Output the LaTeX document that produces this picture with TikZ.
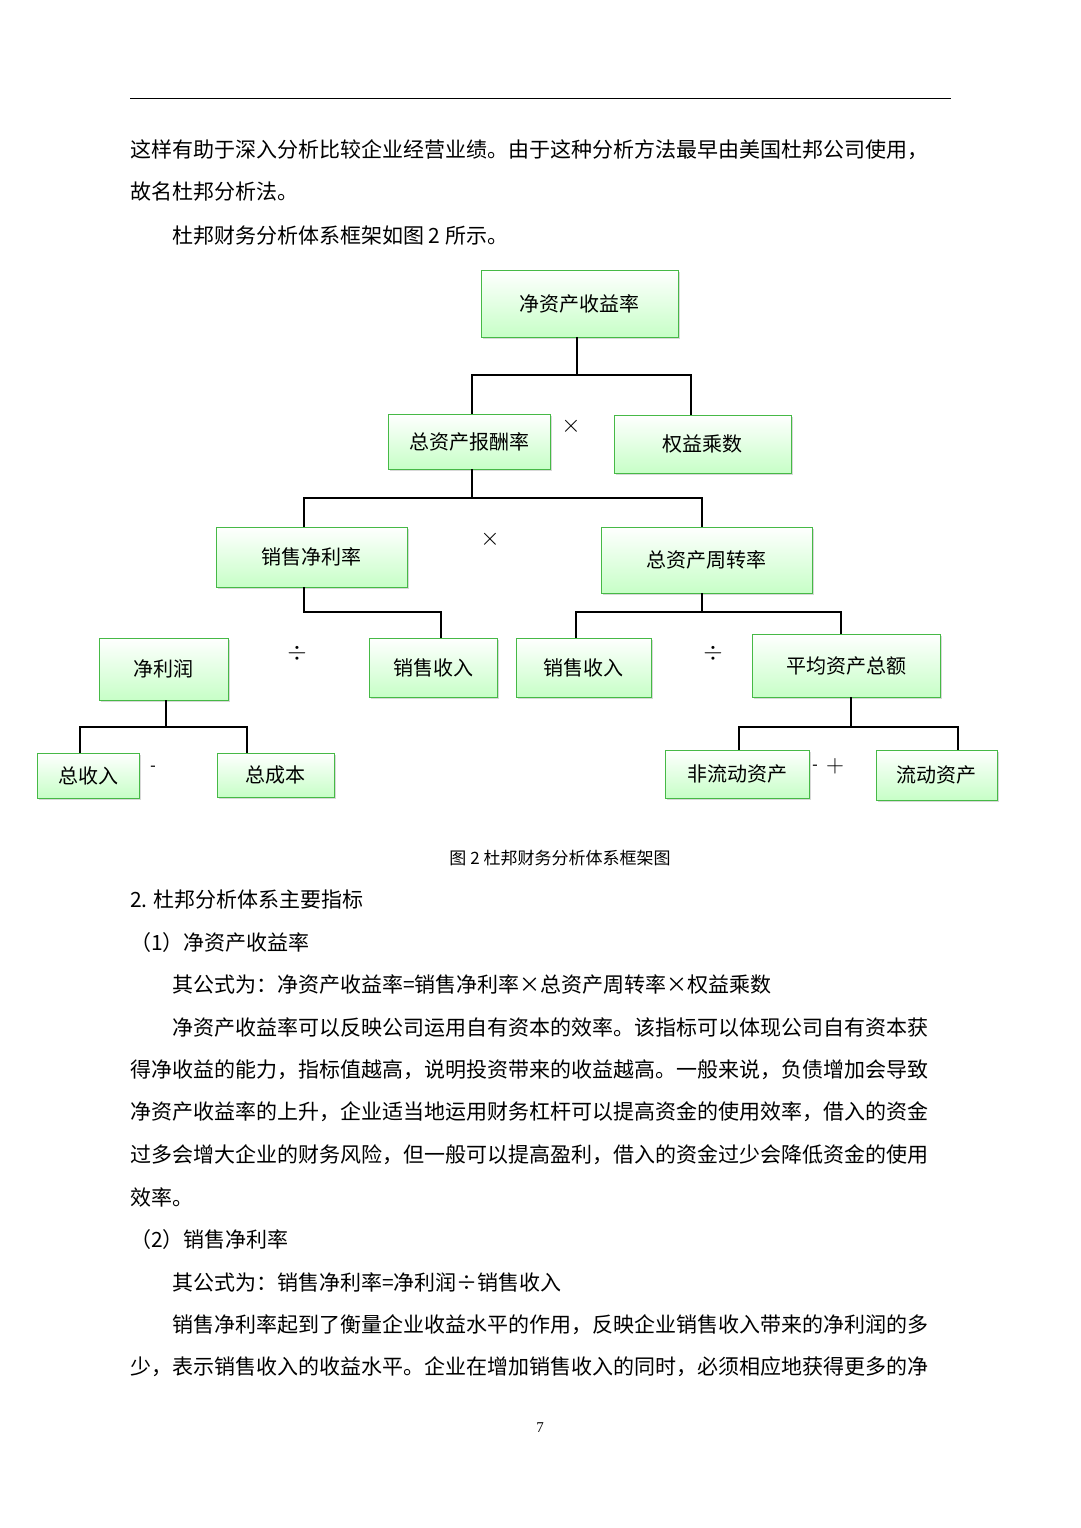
\documentclass[tikz,border=0pt]{standalone}
\usepackage{fontspec}
\setmainfont{Liberation Serif}
\newfontfamily\cjk{Noto Sans CJK SC}
\usetikzlibrary{shadows}
\tikzstyle{base} = [rectangle, draw=green!45!gray, line width=0.8pt, top color=white, bottom color=green!22, drop shadow={shadow xshift=2pt, shadow yshift=-2pt, fill=gray!60}, text centered, font=\cjk\fontsize{20}{20}\selectfont, inner sep=0pt]
\tikzstyle{line} = [line width=1.2pt]
\tikzstyle{para} = [anchor=west, inner sep=0pt, font=\cjk\fontsize{21}{21}\selectfont]
\tikzstyle{op} = [font=\fontsize{24}{24}\selectfont]
\begin{document}
\begin{tikzpicture}[x=1pt, y=-1pt]
  \useasboundingbox[fill=white] (0,0) rectangle (1080,1528);
  \draw[line width=1pt] (130,98) -- (951,98);
  % text above the figure
  \node[para] at (130,150) {这样有助于深入分析比较企业经营业绩。由于这种分析方法最早由美国杜邦公司使用，};
  \node[para] at (130,192) {故名杜邦分析法。};
  \node[para] at (172,236) {杜邦财务分析体系框架如图 2 所示。};
  % boxes
  \node (roe)   [base, minimum width=197, minimum height=67] at (579.5,303.5) {净资产收益率};
  \node (roa)   [base, minimum width=162, minimum height=55] at (469,441.5) {总资产报酬率};
  \node (em)    [base, minimum width=177, minimum height=58] at (702.5,444) {权益乘数};
  \node (npm)   [base, minimum width=191, minimum height=60] at (311.5,557) {销售净利率};
  \node (tat)   [base, minimum width=211, minimum height=66] at (706.5,560) {总资产周转率};
  \node (np)    [base, minimum width=129, minimum height=62] at (163.5,669) {净利润};
  \node (sales1)[base, minimum width=128, minimum height=59] at (433,667.5) {销售收入};
  \node (sales2)[base, minimum width=135, minimum height=59] at (583.5,667.5) {销售收入};
  \node (avgta) [base, minimum width=188, minimum height=63] at (846,665.5) {平均资产总额};
  \node (rev)   [base, minimum width=102, minimum height=45] at (88,775.5) {总收入};
  \node (cost)  [base, minimum width=117, minimum height=44] at (275.5,775) {总成本};
  \node (nca)   [base, minimum width=144, minimum height=48] at (737,774) {非流动资产};
  \node (ca)    [base, minimum width=121, minimum height=50] at (936.5,775) {流动资产};
  % connectors
  \coordinate (j1) at (577,375);
  \draw[line] (roe.south -| j1) -- (j1);
  \draw[line] (roa.north -| 472,0) |- (j1) -| (em.north -| 691,0);
  \coordinate (j2) at (472,498);
  \draw[line] (roa.south -| j2) -- (j2);
  \draw[line] (npm.north -| 304,0) |- (j2) -| (tat.north -| 702,0);
  \coordinate (j3) at (304,612);
  \draw[line] (npm.south -| j3) -- (j3) -| (sales1.north -| 441,0);
  \coordinate (j4) at (702,612);
  \draw[line] (tat.south -| j4) -- (j4);
  \draw[line] (sales2.north -| 576,0) |- (j4) -| (avgta.north -| 841,0);
  \coordinate (j5) at (166,727);
  \draw[line] (np.south -| j5) -- (j5);
  \draw[line] (rev.north -| 80,0) |- (j5) -| (cost.north -| 247,0);
  \coordinate (j6) at (851,727);
  \draw[line] (avgta.south -| j6) -- (j6);
  \draw[line] (nca.north -| 739,0) |- (j6) -| (ca.north -| 958,0);
  % operators
  \node[op] (x1) at (571,426) {$\times$};
  \node[op] (x2) at (490,539) {$\times$};
  \node[op] (d1) at (297,653) {$\div$};
  \node[op] (d2) at (713,653) {$\div$};
  \node[font=\fontsize{16}{16}\selectfont] (m1) at (153,768) {-};
  \node[font=\fontsize{16}{16}\selectfont] (m2) at (815,767) {-};
  \node[op] (p1) at (835,766) {$+$};
  % caption and text below
  \node[font=\cjk\fontsize{17}{17}\selectfont] (cap) at (560,858) {图 2 杜邦财务分析体系框架图};
  \node[para] at (130,900) {2. 杜邦分析体系主要指标};
  \node[para] at (130,943) {（1）净资产收益率};
  \node[para] at (172,985) {其公式为：净资产收益率=销售净利率×总资产周转率×权益乘数};
  \node[para] at (172,1028) {净资产收益率可以反映公司运用自有资本的效率。该指标可以体现公司自有资本获};
  \node[para] at (130,1070) {得净收益的能力，指标值越高，说明投资带来的收益越高。一般来说，负债增加会导致};
  \node[para] at (130,1112) {净资产收益率的上升，企业适当地运用财务杠杆可以提高资金的使用效率，借入的资金};
  \node[para] at (130,1155) {过多会增大企业的财务风险，但一般可以提高盈利，借入的资金过少会降低资金的使用};
  \node[para] at (130,1197) {效率。};
  \node[para] at (130,1240) {（2）销售净利率};
  \node[para] at (172,1282) {其公式为：销售净利率=净利润÷销售收入};
  \node[para] at (172,1325) {销售净利率起到了衡量企业收益水平的作用，反映企业销售收入带来的净利润的多};
  \node[para] at (130,1367) {少，表示销售收入的收益水平。企业在增加销售收入的同时，必须相应地获得更多的净};
  \node[font=\fontsize{15}{15}\selectfont] (pg) at (540,1428) {7};
\end{tikzpicture}
\end{document}
